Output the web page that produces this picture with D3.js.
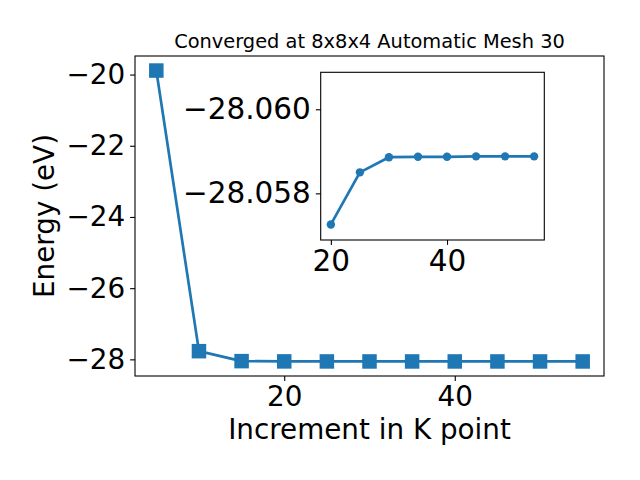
<!DOCTYPE html>
<html>
<head>
<meta charset="utf-8">
<script src="https://cdn.jsdelivr.net/npm/d3@7"></script>
<style>
  html, body { margin: 0; padding: 0; background: #fff; }
  svg { display: block; font-family: "DejaVu Sans", sans-serif; }
</style>
</head>
<body>
<svg id="chart" width="640" height="480"></svg>
<script>
// ---- data ----
const kPoints = [5, 10, 15, 20, 25, 30, 35, 40, 45, 50, 55];
const energies = [-19.887, -27.77, -28.05, -28.05726, -28.0585, -28.05886, -28.05887, -28.05887, -28.05888, -28.05888, -28.05888];
const insetStart = 3; // inset shows k >= 20
const mainXTicks = [20, 40];
const mainYTicks = [-28, -26, -24, -22, -20];
const insetXTicks = [20, 40];
const insetYTicks = [-28.060, -28.058];
const insetYLimits = [-28.06088, -28.05689]; // inverted axis: top value first
const titleText = "Converged at 8x8x4 Automatic Mesh 30";
const xLabelText = "Increment in K point";
const yLabelText = "Energy (eV)";

const color = "#1f77b4";
const svg = d3.select("#chart");

// ---- main axes ----
const M = { left: 135, right: 604, top: 56, bottom: 376 };
const xMin = d3.min(kPoints), xMax = d3.max(kPoints);
const xPad = (xMax - xMin) * 0.05;
const x = d3.scaleLinear().domain([xMin - xPad, xMax + xPad]).range([M.left, M.right]);
const eMin = d3.min(energies), eMax = d3.max(energies);
const yPad = (eMax - eMin) * 0.05;
const y = d3.scaleLinear().domain([eMin - yPad, eMax + yPad]).range([M.bottom, M.top]);

function styleAxis(size) {
  return g => {
    g.selectAll("path.domain").remove();
    g.selectAll(".tick line").attr("stroke", "#000").attr("stroke-width", 1.1);
    g.selectAll(".tick text").attr("fill", "#000").style("font-size", size)
      .style("font-family", "DejaVu Sans, sans-serif");
  };
}

const main = svg.append("g");
main.append("g").attr("transform", `translate(0,${M.bottom})`)
  .call(d3.axisBottom(x).tickValues(mainXTicks).tickSize(4.9).tickPadding(5).tickFormat(d3.format("d")))
  .call(styleAxis("27.8px"));
main.append("g").attr("transform", `translate(${M.left},0)`)
  .call(d3.axisLeft(y).tickValues(mainYTicks).tickSize(4.9).tickPadding(4.9).tickFormat(d3.format("d")))
  .call(styleAxis("27.8px"));

const pts = kPoints.map((k, i) => [k, energies[i]]);
main.append("path").datum(pts)
  .attr("fill", "none").attr("stroke", color).attr("stroke-width", 2.7)
  .attr("stroke-linejoin", "round")
  .attr("d", d3.line().x(d => x(d[0])).y(d => y(d[1])));
const sq = 14.5;
main.selectAll("rect.m").data(pts).enter().append("rect")
  .attr("x", d => x(d[0]) - sq / 2).attr("y", d => y(d[1]) - sq / 2)
  .attr("width", sq).attr("height", sq).attr("fill", color);

main.append("rect").attr("x", M.left).attr("y", M.top)
  .attr("width", M.right - M.left).attr("height", M.bottom - M.top)
  .attr("fill", "none").attr("stroke", "#000").attr("stroke-width", 1.1);

// title & labels
svg.append("text").attr("x", (M.left + M.right) / 2).attr("y", 48)
  .attr("text-anchor", "middle").style("font-size", "19.4px").text(titleText);
svg.append("text").attr("x", (M.left + M.right) / 2).attr("y", 439)
  .attr("text-anchor", "middle").style("font-size", "27.8px").text(xLabelText);
svg.append("text").attr("transform", `translate(54,${(M.top + M.bottom) / 2}) rotate(-90)`)
  .attr("text-anchor", "middle").style("font-size", "27.8px").text(yLabelText);

// ---- inset axes ----
const I = { left: 320.7, right: 544.3, top: 72.3, bottom: 240 };
const insetPts = pts.slice(insetStart);
const ixMin = d3.min(insetPts, d => d[0]), ixMax = d3.max(insetPts, d => d[0]);
const ixPad = (ixMax - ixMin) * 0.05;
const ix = d3.scaleLinear().domain([ixMin - ixPad, ixMax + ixPad]).range([I.left, I.right]);
const iy = d3.scaleLinear().domain(insetYLimits).range([I.top, I.bottom]);

const inset = svg.append("g");
inset.append("rect").attr("x", I.left).attr("y", I.top)
  .attr("width", I.right - I.left).attr("height", I.bottom - I.top).attr("fill", "#fff");
inset.append("g").attr("transform", `translate(0,${I.bottom})`)
  .call(d3.axisBottom(ix).tickValues(insetXTicks).tickSize(4.9).tickPadding(5.5).tickFormat(d3.format("d")))
  .call(styleAxis("29.5px"));
inset.append("g").attr("transform", `translate(${I.left},0)`)
  .call(d3.axisLeft(iy).tickValues(insetYTicks).tickSize(4.9).tickPadding(4.9).tickFormat(d3.format(".3f")))
  .call(styleAxis("29.5px"));
inset.append("path").datum(insetPts)
  .attr("fill", "none").attr("stroke", color).attr("stroke-width", 2.7)
  .attr("stroke-linejoin", "round")
  .attr("d", d3.line().x(d => ix(d[0])).y(d => iy(d[1])));
inset.selectAll("circle.m").data(insetPts).enter().append("circle")
  .attr("cx", d => ix(d[0])).attr("cy", d => iy(d[1])).attr("r", 4.2).attr("fill", color);
inset.append("rect").attr("x", I.left).attr("y", I.top)
  .attr("width", I.right - I.left).attr("height", I.bottom - I.top)
  .attr("fill", "none").attr("stroke", "#000").attr("stroke-width", 1.1);
</script>
</body>
</html>
